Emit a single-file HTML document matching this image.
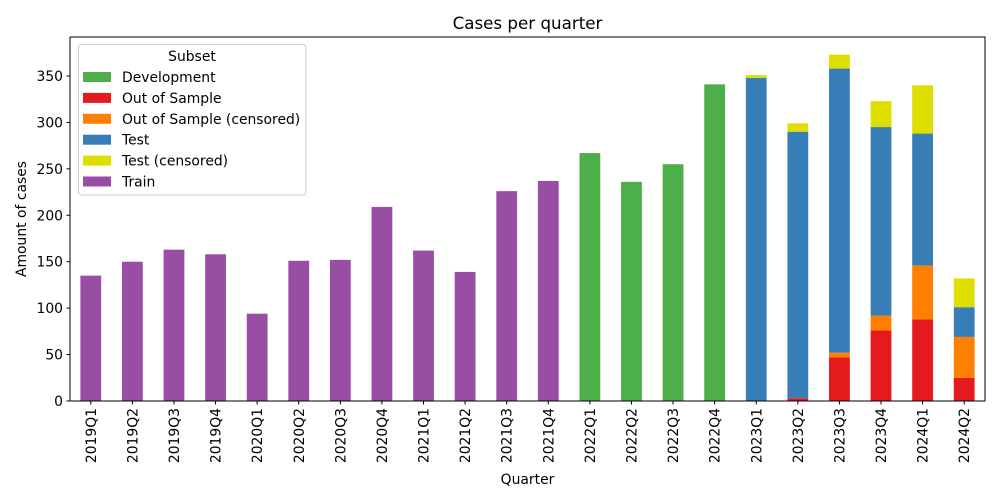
<!DOCTYPE html>
<html><head><meta charset="utf-8"><style>
html,body{margin:0;padding:0;background:#fff;width:1000px;height:500px;overflow:hidden}
svg{font-family:"DejaVu Sans","Liberation Sans",sans-serif}
</style></head><body>
<svg id="chart" width="1000" height="500" xmlns="http://www.w3.org/2000/svg"></svg>
<script>
const categories=["2019Q1","2019Q2","2019Q3","2019Q4","2020Q1","2020Q2","2020Q3","2020Q4","2021Q1","2021Q2","2021Q3","2021Q4","2022Q1","2022Q2","2022Q3","2022Q4","2023Q1","2023Q2","2023Q3","2023Q4","2024Q1","2024Q2"];
const development=[0,0,0,0,0,0,0,0,0,0,0,0,267,236,255,341,0,0,0,0,0,0];
const outOfSample=[0,0,0,0,0,0,0,0,0,0,0,0,0,0,0,0,0,3,47,76,88,25];
const outOfSampleCensored=[0,0,0,0,0,0,0,0,0,0,0,0,0,0,0,0,0,0,5,16,58,44];
const test=[0,0,0,0,0,0,0,0,0,0,0,0,0,0,0,0,348,287,306,203,142,32];
const testCensored=[0,0,0,0,0,0,0,0,0,0,0,0,0,0,0,0,3,9,15,28,52,31];
const train=[135,150,163,158,94,151,152,209,162,139,226,237,0,0,0,0,0,0,0,0,0,0];
const yTicks=[0,50,100,150,200,250,300,350];
const seriesNames=["Development","Out of Sample","Out of Sample (censored)","Test","Test (censored)","Train"];
const seriesColors=["#4daf4a","#e41a1c","#ff7f00","#377eb8","#dede00","#984ea3"];
const seriesData=[development,outOfSample,outOfSampleCensored,test,testCensored,train];

const NS="http://www.w3.org/2000/svg";
const svg=document.getElementById('chart');
const L=70,R=985,T=37,B=401,yMax=392;
const FS=13.9;
const band=(R-L)/categories.length;
const x=i=>L+band*(i+0.5);
const y=v=>B-(v/yMax)*(B-T);
function el(tag,attrs,parent){const e=document.createElementNS(NS,tag);for(const k in attrs)e.setAttribute(k,attrs[k]);(parent||svg).appendChild(e);return e;}

const bars=el('g',{});


categories.forEach((c,i)=>{
  let base=0;
  seriesData.forEach((s,k)=>{
    const v=s[i]; if(!v) return;
    const r=el('rect',{x:x(i)-band*0.25,y:y(base+v),width:band*0.5,height:y(base)-y(base+v),fill:seriesColors[k]},bars);
    
    
    base+=v;
  });
});

const frame=el('rect',{x:L,y:T,width:R-L,height:B-T,fill:'none',stroke:'#000','stroke-width':1});



yTicks.forEach(t=>{
  el('line',{x1:L-3.5,x2:L,y1:y(t),y2:y(t),stroke:'#000'});
  const tx=el('text',{x:L-7,y:y(t)+5,'text-anchor':'end','font-size':FS,fill:'#000'});
  tx.textContent=t;
  
  
});
categories.forEach((c,i)=>{
  el('line',{x1:x(i),x2:x(i),y1:B,y2:B+3.5,stroke:'#000'});
  const tx=el('text',{x:0,y:0,'text-anchor':'end','font-size':FS,fill:'#000',transform:`translate(${x(i)+5},${B+7}) rotate(-90)`});
  tx.textContent=c;
  
  
});

const title=el('text',{x:(L+R)/2,y:29,'text-anchor':'middle','font-size':16.7,fill:'#000'});
title.textContent='Cases per quarter';


const xt=el('text',{x:(L+R)/2,y:484,'text-anchor':'middle','font-size':FS,fill:'#000'});
xt.textContent='Quarter';


const yt=el('text',{x:0,y:0,'text-anchor':'middle','font-size':FS,fill:'#000',transform:`translate(26,${(T+B)/2}) rotate(-90)`});
yt.textContent='Amount of cases';



const lg=el('g',{});


el('rect',{x:78.5,y:44.5,width:227.5,height:150.5,rx:3,fill:'#fff','fill-opacity':0.8,stroke:'#ccc'},lg);
const lt=el('text',{x:192,y:61,'text-anchor':'middle','font-size':FS,fill:'#000'},lg);
lt.textContent='Subset';


seriesNames.forEach((n,k)=>{
  const g=el('g',{},lg);
  
  
  const yy=72+k*20.9;
  el('rect',{x:83,y:yy,width:28,height:10,fill:seriesColors[k]},g);
  const t=el('text',{x:122,y:yy+10,'font-size':FS,fill:'#000'},g);
  t.textContent=n;
});
</script>
</body></html>
